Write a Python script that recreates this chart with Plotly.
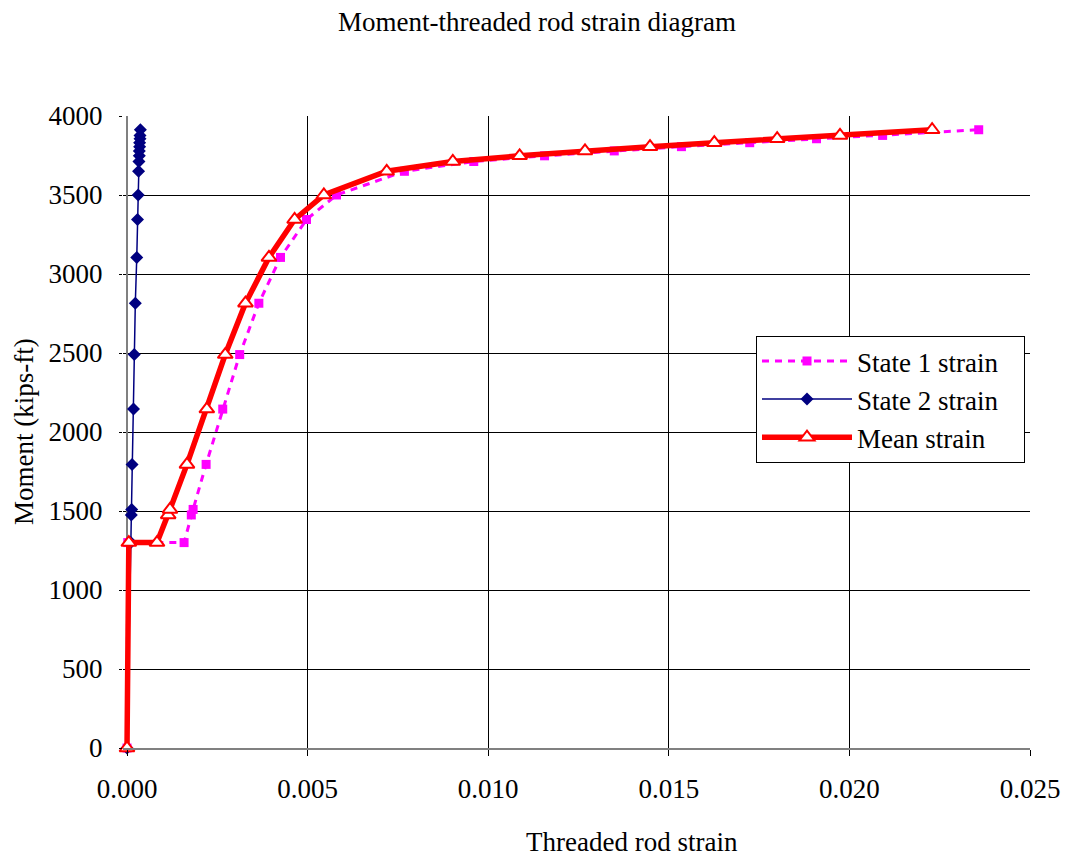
import plotly.graph_objects as go

# Moment values (kips-ft), shared by the series
moment = [0, 1300, 1300, 1475, 1510, 1795, 2145, 2490, 2815, 3105, 3345,
          3500, 3650, 3712, 3748, 3779, 3806, 3831, 3856, 3877, 3913]

state1_strain = [0, 0.00002, 0.00158, 0.00178, 0.00183, 0.00219, 0.00265,
                 0.00312, 0.00365, 0.00425, 0.00497, 0.00580, 0.00768,
                 0.00960, 0.01156, 0.01349, 0.01535, 0.01724, 0.01909,
                 0.02092, 0.02358]

state2_strain = [0, 0.00010, 0.00010, 0.00012, 0.00013, 0.00014, 0.00018,
                 0.00020, 0.00023, 0.00027, 0.00029, 0.00031, 0.00032,
                 0.00033, 0.00034, 0.00034, 0.00035, 0.00035, 0.00036,
                 0.00036, 0.00037]

mean_strain = [0, 0.00005, 0.00083, 0.00114, 0.00119, 0.00166, 0.00221,
               0.00272, 0.00328, 0.00393, 0.00464, 0.00545, 0.00719,
               0.00902, 0.01087, 0.01268, 0.01448, 0.01626, 0.01800,
               0.01974, 0.02229]

x_ticks = [0, 0.005, 0.010, 0.015, 0.020, 0.025]
x_tick_text = ["0.000", "0.005", "0.010", "0.015", "0.020", "0.025"]
y_ticks = [0, 500, 1000, 1500, 2000, 2500, 3000, 3500, 4000]

FONT = "Liberation Serif, Times New Roman, serif"
FS = 27
PAD = "\u00a0" * 3  # right padding inside the legend box

fig = go.Figure()
fig.add_trace(go.Scatter(
    x=state1_strain, y=moment, name="State 1 strain" + PAD,
    mode="lines+markers",
    line=dict(color="#FF00FF", width=3, dash="7px,6px"),
    marker=dict(symbol="square", size=9, color="#FF00FF"),
    cliponaxis=False, legendgroup="a"))
fig.add_trace(go.Scatter(
    x=state2_strain, y=moment, name="State 2 strain" + PAD,
    mode="lines+markers",
    line=dict(color="#000080", width=1.5),
    marker=dict(symbol="diamond", size=10, color="#000080"),
    cliponaxis=False, legendgroup="b"))
fig.add_trace(go.Scatter(
    x=mean_strain, y=moment, name="Mean strain", mode="lines+markers",
    line=dict(color="#FF0000", width=5.5),
    marker=dict(symbol="triangle-up", size=13, color="white",
                line=dict(color="#FF0000", width=2)),
    cliponaxis=False, legendgroup="c"))

fig.update_layout(
    width=1066, height=858,
    margin=dict(l=123, r=36, t=116, b=110, autoexpand=False),
    paper_bgcolor="white", plot_bgcolor="white",
    font=dict(family=FONT, size=FS, color="black"),
    title=dict(text="Moment-threaded rod strain diagram", x=537/1066,
               xanchor="center", y=1 - 22/858, yanchor="middle",
               font=dict(size=FS)),
    showlegend=True,
    legend=dict(x=(756 - 123) / 907, y=0.652, xanchor="left", yanchor="top",
                bgcolor="white", bordercolor="black", borderwidth=1,
                font=dict(size=FS), itemwidth=90, traceorder="grouped",
                tracegroupgap=0),
    annotations=[
        dict(text="Threaded rod strain", xref="paper", yref="paper",
             x=(632 - 123) / 907, y=0, yshift=-94, xanchor="center",
             yanchor="middle", showarrow=False, font=dict(size=FS)),
        dict(text="Moment (kips-ft)", xref="paper", yref="paper",
             x=0, xshift=-99, y=0.5, textangle=-90, xanchor="center",
             yanchor="middle", showarrow=False, font=dict(size=FS)),
    ],
)
fig.update_xaxes(range=[-0.000111, 0.025], tickvals=x_ticks,
                 ticktext=x_tick_text, automargin=False,
                 showgrid=True, gridcolor="black", gridwidth=1,
                 zeroline=True, zerolinecolor="#808080", zerolinewidth=2,
                 showline=True, linecolor="#808080",
                 linewidth=2, ticks="outside", ticklen=6, tickcolor="black",
                 ticklabelstandoff=10)
fig.update_yaxes(range=[0, 4000], tickvals=y_ticks, automargin=False,
                 showgrid=True, gridcolor="black", gridwidth=1,
                 zeroline=False, showline=False,
                 ticks="outside", ticklen=3, tickcolor="black",
                 ticklabelstandoff=11)

fig.write_html("out.html")
